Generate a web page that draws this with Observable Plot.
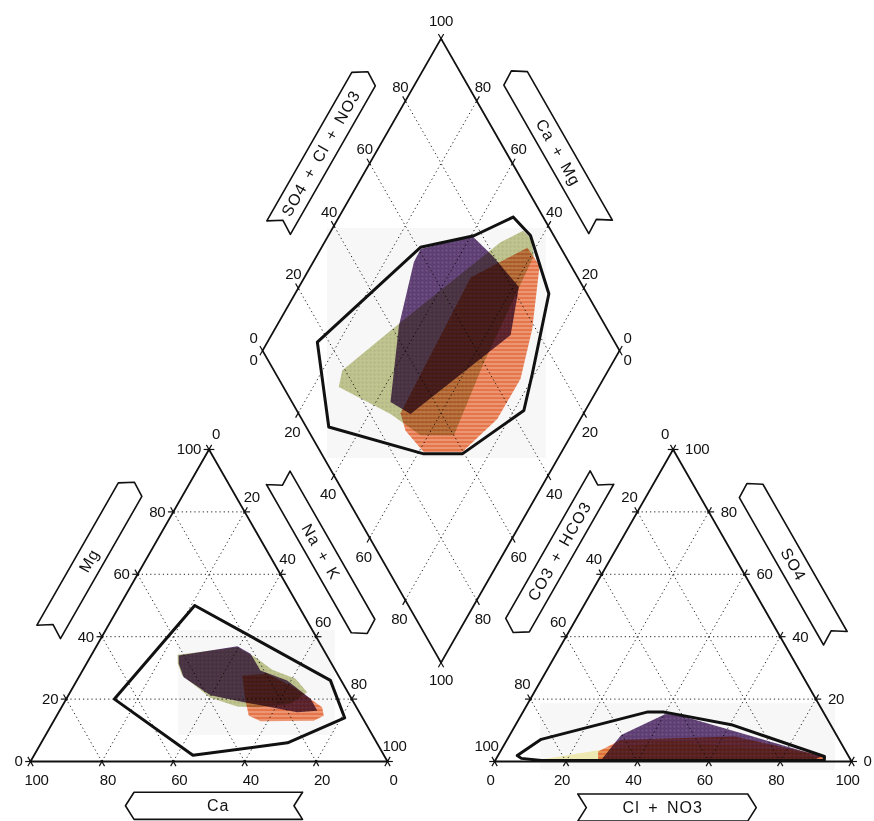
<!DOCTYPE html>
<html><head><meta charset="utf-8">
<script src="https://cdn.jsdelivr.net/npm/d3@7"></script>
<script src="https://cdn.jsdelivr.net/npm/@observablehq/plot@0.6"></script>
<style>
html,body{margin:0;padding:0;background:#fff;}
#chart svg{display:block;}
#chart g[fill^="url"]{mix-blend-mode:multiply;}
#chart g[font-size="16"] text{letter-spacing:1px;word-spacing:3px;}
#chart g[font-size="15"] text{letter-spacing:-0.3px;}
</style></head><body><div id="chart"></div>
<script>
// ---------------- data ----------------
const tickValues = [0, 20, 40, 60, 80, 100];
const gridValues = [20, 40, 60, 80];
const axisTitles = ["Ca", "Mg", "Na + K", "Cl + NO3", "SO4", "CO3 + HCO3", "SO4 + Cl + NO3", "Ca + Mg"];

// cation triangle: [Ca %, Mg %]
const cationEnvelope = [[29,50],[3,26],[5,14],[25,6],[53.5,2],[66.5,20]];
const cationPurple = [[41.5,34],[23.6,36.9],[21.1,34.5],[21,29.2],[15.1,26],[11.5,20.1],[11.5,16.3],[17.4,15.8],[30.7,19],[39,21.2],[43.6,27],[42.8,31.3]];
const cationGreen = [[41.7,34.2],[23.9,36.6],[20.3,33.4],[17.6,29.4],[12.5,26.5],[11.4,22.2],[17.9,18.5],[27.8,17.4],[33.3,17.6],[39.4,20.4],[43.7,27.6],[43.1,31.3]];
const cationOrange = [[26.9,27.6],[19.7,28.1],[14.3,23.8],[9.6,17.4],[10.5,14.7],[14.1,13.1],[29.1,12.9],[31.5,14.7],[30,19.6]];

// anion triangle: [Cl + NO3 %, SO4 %]
const anionEnvelope = [[5.4,1.9],[9.5,7.1],[35,15.9],[39.3,15.9],[60.4,11.8],[91.6,1.6],[92.2,0.3],[13,0.3],[7,1]];
const anionPurple = [[41,15.8],[90.7,1.6],[89,0.3],[29.6,0.3],[31.2,8.5]];
const anionOrange = [[27.4,3.2],[32,7],[63.2,8],[92.1,1.6],[91.5,0],[29,0]];
const anionYellow = [[11.9,0.5],[28,3.75],[45.4,6.4],[84.3,3.2],[91.7,0.2],[12.2,0]];

// diamond: [SO4 + Cl + NO3 %, Ca + Mg %]
const diamondEnvelope = [[91.6,51.2],[93.5,43.4],[89.3,28.9],[71.8,20.7],[63.6,17.2],[39.4,27.5],[28.6,38.3],[6.3,69.2],[16.7,86],[60.8,72.3],[77.6,59.2]];
const diamondPurple = [[60.6,72],[77.1,59.6],[79.6,50.9],[82,38.4],[72,33],[31.3,48.4],[27.6,55.9],[42.2,65.8],[56.6,71.8]];
const diamondOrange = [[90.7,42.3],[91.2,36],[79,27.9],[67.7,23.2],[54.8,23.3],[39.7,27.8],[28.9,38.5],[27.2,47.1],[28.6,51.3],[70,53.4]];
const diamondGreen = [[15.5,72.8],[19.1,74.5],[42.5,66.1],[84,50.7],[92.2,46.2],[93.2,42.6],[91.2,39.2],[60.1,36.1],[40,32.8],[30.7,42.2],[25.7,54]];

// ---------------- geometry ----------------
const W = 874, H = 821;
const S = 3.57;            // px per unit
const X0 = 30, Y0 = 761;   // px position of unit origin
const K = 0.874;           // height factor of the triangles
const GAP = 30;            // units between the two triangles
const DV = 27.7;           // height of the diamond's lower vertex
const RX = 100 + GAP;
const DX = 100 + GAP / 2;

const cat = (ca, mg) => [100 - ca - mg / 2, K * mg];
const an = (cl, so4) => [RX + cl + so4 / 2, K * so4];
const dia = (s, c) => [DX + (s - c) / 2, DV + K * (s + c)];
const closeP = a => [...a, a[0]];

// faint scanned-paste backgrounds behind the coloured fields (units)
const pasteBoxes = [
  {x1: 83.2, x2: 144.5, y1: 84.9, y2: 149.3},
  {x1: 41.5, x2: 85.4, y1: 7.3, y2: 36.7},
  {x1: 142.9, x2: 225.5, y1: -2.5, y2: 16.2}
];

const unit = v => { const l = Math.hypot(v[0], v[1]); return [v[0] / l, v[1] / l]; };
const E = 1.5;

const catFam = [
  {p0: k => cat(100 - k, k), p1: k => cat(0, k)},
  {p0: k => cat(k, 0), p1: k => cat(k, 100 - k)},
  {p0: k => cat(100 - k, 0), p1: k => cat(0, 100 - k)}
];
const anFam = [
  {p0: k => an(0, k), p1: k => an(100 - k, k)},
  {p0: k => an(k, 0), p1: k => an(k, 100 - k)},
  {p0: k => an(100 - k, 0), p1: k => an(0, 100 - k)}
];
const diaFam = [
  {p0: k => dia(k, 0), p1: k => dia(k, 100)},
  {p0: k => dia(0, k), p1: k => dia(100, k)}
];
const allFam = [...catFam, ...anFam, ...diaFam];
const gridSegs = allFam.flatMap(f => gridValues.map(k => {
  const a = f.p0(k), b = f.p1(k); return {x1: a[0], y1: a[1], x2: b[0], y2: b[1]};
}));
const tickSegs = allFam.flatMap(f => {
  const a0 = f.p0(0), b0 = f.p1(0);
  const d = unit([b0[0] - a0[0], b0[1] - a0[1]]);
  return tickValues.flatMap(k => {
    const a = f.p0(k), b = f.p1(k);
    return [{x1: a[0] - E * d[0], y1: a[1] - E * d[1], x2: a[0] + 0.5 * d[0], y2: a[1] + 0.5 * d[1]},
            {x1: b[0] - 0.5 * d[0], y1: b[1] - 0.5 * d[1], x2: b[0] + E * d[0], y2: b[1] + E * d[1]}];
  });
});

// triangle / diamond corners
const L_BL = cat(100, 0), L_BR = cat(0, 0), L_T = cat(0, 100);
const R_BL = an(0, 0), R_BR = an(100, 0), R_T = an(0, 100);
const D_B = dia(0, 0), D_R = dia(100, 0), D_T = dia(100, 100), D_L = dia(0, 100);
const L_C = [50, 100 * K / 3], R_C = [RX + 50, 100 * K / 3], D_C = [DX, DV + 100 * K];

// ribbons
const HW = 3.8, DEP = 2.4;
function ribbon(label, P0, P1, fT, fH, off, C) {
  const d = unit([P1[0] - P0[0], P1[1] - P0[1]]);
  let n = [-d[1], d[0]];
  const M = [(P0[0] + P1[0]) / 2, (P0[1] + P1[1]) / 2];
  if ((M[0] - C[0]) * n[0] + (M[1] - C[1]) * n[1] < 0) n = [-n[0], -n[1]];
  const sg = Math.sign(fH - fT), a = [d[0] * sg, d[1] * sg];
  const at = (f, o) => [P0[0] + (P1[0] - P0[0]) * f + n[0] * o, P0[1] + (P1[1] - P0[1]) * f + n[1] * o];
  const Ct = at(fT, off), Ch = at(fH, off);
  const pt = (c, w, k) => [c[0] + n[0] * w + a[0] * k, c[1] + n[1] * w + a[1] * k];
  const poly = [pt(Ct, -HW, 0), pt(Ct, 0, DEP), pt(Ct, HW, 0), pt(Ch, HW, 0), pt(Ch, 0, DEP), pt(Ch, -HW, 0)];
  let ang = Math.atan2(-(P1[1] - P0[1]), P1[0] - P0[0]) * 180 / Math.PI;
  if (ang > 90) ang -= 180; if (ang < -90) ang += 180;
  return {label, poly: closeP(poly).map(p => ({x: p[0], y: p[1], label})),
          cx: (Ct[0] + Ch[0]) / 2, cy: (Ct[1] + Ch[1]) / 2, ang};
}
const ribbons = [
  ribbon(axisTitles[0], L_BL, L_BR, 0.762, 0.290, 12.4, L_C),
  ribbon(axisTitles[1], L_BL, L_T, 0.338, 0.794, 13.6, L_C),
  ribbon(axisTitles[2], L_T, L_BR, 0.164, 0.639, 12.9, L_C),
  ribbon(axisTitles[3], R_BL, R_BR, 0.233, 0.709, 12.9, R_C),
  ribbon(axisTitles[4], R_T, R_BR, 0.680, 0.208, 13.2, R_C),
  ribbon(axisTitles[5], R_BL, R_T, 0.834, 0.361, 13.4, R_C),
  ribbon(axisTitles[6], D_L, D_T, 0.319, 0.795, 13.2, D_C),
  ribbon(axisTitles[7], D_T, D_R, 0.675, 0.199, 12.6, D_C)
];

const poly = (pts, opts) => Plot.line(pts, {x: d => d[0], y: d => d[1], ...opts});
const fillPoly = (pts, pat) => poly(pts, {fill: `url(#${pat})`, stroke: "none"});
const outline = pts => poly(pts, {stroke: "#111", strokeWidth: 3, strokeLinejoin: "round", fill: "none"});

const TF = {fontFamily: "Liberation Sans, Arial, sans-serif", fontSize: 15, fill: "#111"};
const lbl = (vals, f, opts) => Plot.text(vals, {x: k => f(k)[0], y: k => f(k)[1], text: k => String(k), ...TF, ...opts});

const plot = Plot.plot({
  width: W, height: H, margin: 0,
  x: {domain: [-X0 / S, (W - X0) / S], range: [0, W], axis: null},
  y: {domain: [-(H - Y0) / S, Y0 / S], range: [H, 0], axis: null},
  style: {background: "white"},
  marks: [
    Plot.rect(pasteBoxes, {x1: "x1", x2: "x2", y1: "y1", y2: "y2", fill: "#f7f7f7"}),
    Plot.link(gridSegs, {x1: "x1", y1: "y1", x2: "x2", y2: "y2", stroke: "#222", strokeWidth: 1, strokeDasharray: "1.2,3"}),
    // colored groups
    fillPoly(closeP(cationGreen.map(p => cat(...p))), "pGreen"),
    fillPoly(closeP(cationOrange.map(p => cat(...p))), "pOrange"),
    fillPoly(closeP(cationPurple.map(p => cat(...p))), "pPurple"),
    fillPoly(closeP(anionYellow.map(p => an(...p))), "pYellow"),
    fillPoly(closeP(anionOrange.map(p => an(...p))), "pOrange"),
    fillPoly(closeP(anionPurple.map(p => an(...p))), "pPurple"),
    fillPoly(closeP(diamondGreen.map(p => dia(...p))), "pGreen"),
    fillPoly(closeP(diamondOrange.map(p => dia(...p))), "pOrange"),
    fillPoly(closeP(diamondPurple.map(p => dia(...p))), "pPurple"),
    // envelopes
    outline(closeP(cationEnvelope.map(p => cat(...p)))),
    outline(closeP(anionEnvelope.map(p => an(...p)))),
    outline(closeP(diamondEnvelope.map(p => dia(...p)))),
    // frames
    poly(closeP([L_BL, L_BR, L_T]), {stroke: "#111", strokeWidth: 1.8}),
    poly(closeP([R_BL, R_BR, R_T]), {stroke: "#111", strokeWidth: 1.8}),
    poly(closeP([D_B, D_R, D_T, D_L]), {stroke: "#111", strokeWidth: 1.8}),
    Plot.link(tickSegs, {x1: "x1", y1: "y1", x2: "x2", y2: "y2", stroke: "#111", strokeWidth: 1.2}),
    // tick labels: cation triangle
    lbl(tickValues, k => cat(k, 0), {dx: 6, dy: 19}),
    lbl(tickValues, k => cat(100 - k, k), {dx: -8, textAnchor: "end"}),
    lbl(tickValues, k => cat(0, 100 - k), {dx: 7, dy: -15}),
    // anion triangle
    lbl(tickValues, k => an(k, 0), {dx: -4, dy: 19}),
    lbl(tickValues, k => an(100 - k, k), {dx: 12, textAnchor: "start"}),
    lbl(tickValues, k => an(0, 100 - k), {dx: -8, dy: -15}),
    // diamond
    lbl(gridValues, k => dia(k, 100), {dx: -5, dy: -14}),
    lbl(gridValues, k => dia(100, k), {dx: 6, dy: -14}),
    lbl(gridValues, k => dia(0, 100 - k), {dx: -6, dy: 19}),
    lbl(gridValues, k => dia(100 - k, 0), {dx: 6, dy: 19}),
    lbl([100], k => dia(k, k), {dy: -17}),
    lbl([100], k => dia(100 - k, 100 - k), {dy: 18}),
    lbl([0], k => dia(k, 100), {dx: -9, dy: -12}),
    lbl([0], k => dia(k, 100), {dx: -9, dy: 10}),
    lbl([0], k => dia(100, k), {dx: 8, dy: -12}),
    lbl([0], k => dia(100, k), {dx: 8, dy: 10}),
    // ribbons
    Plot.line(ribbons.flatMap(r => r.poly), {x: "x", y: "y", z: "label", fill: "white", stroke: "#111", strokeWidth: 1.6, strokeLinejoin: "round"}),
    Plot.text(ribbons, {x: "cx", y: "cy", text: "label", rotate: "ang", fontFamily: "Liberation Sans, Arial, sans-serif", fontSize: 16, fill: "#111"})
  ]
});

// hatch / stipple patterns
const defs = d3.select(plot).insert("defs", ":first-child");
function pattern(id, base, draw) {
  const p = defs.append("pattern").attr("id", id).attr("width", 4).attr("height", 4).attr("patternUnits", "userSpaceOnUse");
  p.append("rect").attr("width", 4).attr("height", 4).attr("fill", base);
  draw(p);
}
pattern("pPurple", "#603f76", p => p.append("circle").attr("cx", 2).attr("cy", 2).attr("r", 0.7).attr("fill", "#fff").attr("fill-opacity", 0.35));
pattern("pOrange", "#ee7a4c", p => p.append("rect").attr("y", 3).attr("width", 4).attr("height", 1).attr("fill", "#fff").attr("fill-opacity", 0.5));
pattern("pGreen", "#c6cb94", p => p.append("circle").attr("cx", 2).attr("cy", 2).attr("r", 0.6).attr("fill", "#333").attr("fill-opacity", 0.5));
pattern("pYellow", "#f6f1b8", p => {});

document.getElementById("chart").appendChild(plot);
</script>
</body></html>
